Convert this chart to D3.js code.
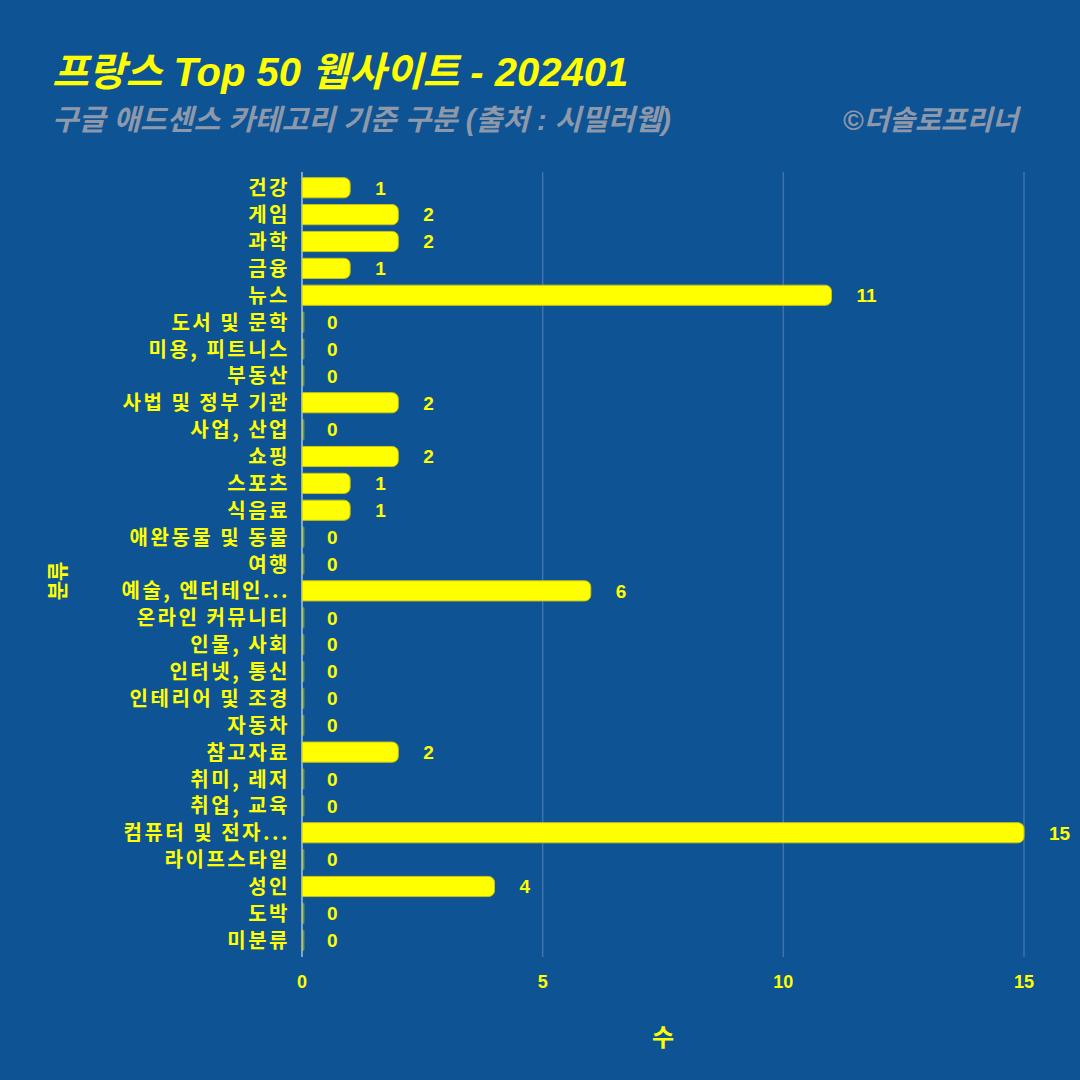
<!DOCTYPE html>
<html><head><meta charset="utf-8">
<script src="https://cdn.jsdelivr.net/npm/d3@7"></script>
<style>html,body{margin:0;padding:0;background:#0e5394;}svg{display:block;}</style>
</head><body>
<svg id="c" width="1080" height="1080"></svg>
<script>
const categories = ["건강","게임","과학","금융","뉴스","도서 및 문학","미용, 피트니스","부동산","사법 및 정부 기관","사업, 산업","쇼핑","스포츠","식음료","애완동물 및 동물","여행","예술, 엔터테인...","온라인 커뮤니티","인물, 사회","인터넷, 통신","인테리어 및 조경","자동차","참고자료","취미, 레저","취업, 교육","컴퓨터 및 전자...","라이프스타일","성인","도박","미분류"];
const values = [1,2,2,1,11,0,0,0,2,0,2,1,1,0,0,6,0,0,0,0,0,2,0,0,15,0,4,0,0];
const xTicks = [0,5,10,15];
const titleText = "프랑스 Top 50 웹사이트 - 202401";
const subtitleText = "구글 애드센스 카테고리 기준 구분 (출처 : 시밀러웹)";
const creditText = "©더솔로프리너";
const xTitle = "수";
const yTitle = "분류";

(function(){
const svg = d3.select("#c");
const W = 1080, H = 1080;
svg.append("rect").attr("width",W).attr("height",H).attr("fill","#0e5394");
const font = "'Liberation Sans','Noto Sans CJK KR',sans-serif";
const kfont = "'Noto Sans CJK KR',sans-serif";
const yellow = "#ffff00";

const pl = 302, pr = 1024, pt = 175, pb = 953;
const x = d3.scaleLinear().domain([0,15]).range([pl,pr]);
const y = d3.scaleBand().domain(categories).range([pt,pb]).paddingInner(0.25).paddingOuter(0.1);

svg.append("g").selectAll("line").data(xTicks).join("line")
  .attr("x1",d=>x(d)).attr("x2",d=>x(d))
  .attr("y1",172).attr("y2",957)
  .attr("stroke",d=>d===0?"#7fa6d1":"#3f73ad").attr("stroke-width",d=>d===0?2:1.5);

const bh = y.bandwidth();
const r = 6;
svg.append("g").selectAll("path").data(values).join("path")
  .attr("d",(d,i)=>{
    const x0 = x(0), x1 = x(d), y0 = y(categories[i]), h = bh;
    if (d===0) return `M${x0},${y0}h2v${h}h-2z`;
    const rr = Math.min(r, (x1-x0)/2, h/2);
    return `M${x0},${y0}H${x1-rr}A${rr},${rr} 0 0 1 ${x1},${y0+rr}V${y0+h-rr}A${rr},${rr} 0 0 1 ${x1-rr},${y0+h}H${x0}Z`;
  })
  .attr("fill",yellow).attr("stroke","#c9c31a").attr("stroke-width",1)
  .attr("opacity",(d)=>d===0?0.45:1);

svg.append("g").selectAll("text").data(values).join("text")
  .attr("x",d=>x(d)+25).attr("y",(d,i)=>y(categories[i])+bh/2)
  .attr("dy","0.36em")
  .attr("fill",yellow).attr("font-family",font).attr("font-weight","bold").attr("font-size",19)
  .text(d=>d);

svg.append("g").selectAll("text").data(categories).join("text")
  .attr("x",290).attr("y",d=>y(d)+bh/2).attr("dy","0.38em")
  .attr("text-anchor","end")
  .attr("fill",yellow).attr("font-family",kfont).attr("font-weight","bold").attr("font-size",20)
  .attr("letter-spacing",2.5)
  .text(d=>d);

svg.append("g").selectAll("text").data(xTicks).join("text")
  .attr("x",d=>x(d)).attr("y",988).attr("text-anchor","middle")
  .attr("fill",yellow).attr("font-family",font).attr("font-weight","bold").attr("font-size",18)
  .text(d=>d);

svg.append("text").attr("x",663).attr("y",1046).attr("text-anchor","middle")
  .attr("fill",yellow).attr("font-family",kfont).attr("font-weight","bold").attr("font-size",24)
  .text(xTitle);
svg.append("text").attr("transform","translate(65,581) rotate(-90)").attr("text-anchor","middle")
  .attr("fill",yellow).attr("font-family",kfont).attr("font-weight","bold").attr("font-size",21)
  .text(yTitle);

svg.append("text").attr("x",52).attr("y",86)
  .attr("fill",yellow).attr("font-family",font).attr("font-weight","bold").attr("font-style","italic").attr("font-size",40)
  .text(titleText);
svg.append("text").attr("x",52).attr("y",130)
  .attr("fill","#8d99ab").attr("font-family",font).attr("font-weight","bold").attr("font-style","italic").attr("font-size",29)
  .text(subtitleText);
svg.append("text").attr("x",1018).attr("y",130).attr("text-anchor","end")
  .attr("fill","#8d99ab").attr("font-family",font).attr("font-weight","bold").attr("font-style","italic").attr("font-size",28)
  .text(creditText);
})();
</script>
</body></html>
